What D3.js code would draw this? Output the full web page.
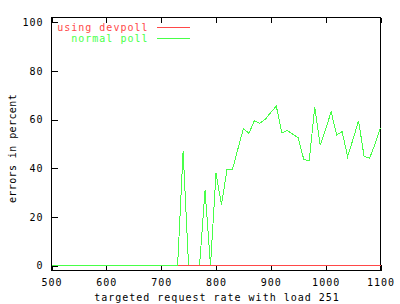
<!DOCTYPE html>
<html>
<head>
<meta charset="utf-8">
<script src="https://cdnjs.cloudflare.com/ajax/libs/d3/7.8.5/d3.min.js"></script>
<style>
  body { margin: 0; background: #fff; }
  text { font-family: "DejaVu Sans Mono", monospace; font-size: 10px; letter-spacing: 1px; }
  .axis path { display: none; }
  .axis line { stroke: #000; shape-rendering: crispEdges; }
  .axis text { fill: #000; }
</style>
</head>
<body>
<div id="chart"></div>
<script>
// request rates (x) and error percentages
var rates = [500, 510, 520, 530, 540, 550, 560, 570, 580, 590,
             600, 610, 620, 630, 640, 650, 660, 670, 680, 690,
             700, 710, 720, 730, 740, 750, 760, 770, 780, 790,
             800, 810, 820, 830, 840, 850, 860, 870, 880, 890,
             900, 910, 920, 930, 940, 950, 960, 970, 980, 990,
             1000, 1010, 1020, 1030, 1040, 1050, 1060, 1070, 1080, 1090, 1100];

var normalPoll = [0, 0, 0, 0, 0, 0, 0, 0, 0, 0,
                  0, 0, 0, 0, 0, 0, 0, 0, 0, 0,
                  0, 0, 0, 0, 47, 0, 0, 0, 31, 0,
                  38, 25, 39.5, 39.5, 48, 56.4, 54.4, 59.6, 58.5, 60.2,
                  63, 65.6, 54.6, 55.5, 54, 52.5, 43.7, 43.1, 65.1, 49.6,
                  56, 63.3, 53.7, 55.1, 44.8, 52, 59.6, 45, 44.1, 50, 56.7];

var devpollRates = [730, 740, 750, 760, 770, 780, 790,
                    800, 810, 820, 830, 840, 850, 860, 870, 880, 890,
                    900, 910, 920, 930, 940, 950, 960, 970, 980, 990,
                    1000, 1010, 1020, 1030, 1040, 1050, 1060, 1070, 1080, 1090, 1100];
var usingDevpoll = [0, 0, 0, 0, 0, 0, 0,
                    0, 0, 0, 0, 0, 0, 0, 0, 0, 0,
                    0, 0, 0, 0, 0, 0, 0, 0, 0, 0,
                    0, 0, 0, 0, 0, 0, 0, 0, 0, 0, 0];

var xTicks = [500, 600, 700, 800, 900, 1000, 1100];
var yTicks = [0, 20, 40, 60, 80, 100];

var red = "#ff4848", green = "#48ff48";

var width = 400, height = 304;
var margin = {top: 17, right: 20, bottom: 34, left: 51};
var w = width - margin.left - margin.right,
    h = height - margin.top - margin.bottom;

var x = d3.scaleLinear().domain([500, 1100]).range([0, w]);
var y = d3.scaleLinear().domain([-2, 102]).range([h, 0]);

var svg = d3.select("#chart").append("svg")
    .attr("width", width)
    .attr("height", height)
  .append("g")
    .attr("transform", "translate(" + (margin.left + 0.5) + "," + (margin.top + 0.5) + ")");

svg.append("g")
    .attr("class", "axis")
    .attr("transform", "translate(0," + h + ")")
    .call(d3.axisBottom(x).tickValues(xTicks).tickFormat(d3.format("d"))
      .tickSizeInner(-6).tickSizeOuter(0).tickPadding(8));

svg.append("g")
    .attr("class", "axis")
    .call(d3.axisTop(x).tickValues(xTicks).tickSizeInner(-5).tickSizeOuter(0).tickFormat(""));

svg.append("g")
    .attr("class", "axis")
    .call(d3.axisLeft(y).tickValues(yTicks).tickSizeInner(-6).tickSizeOuter(0).tickPadding(8));

// frame
svg.append("rect")
    .attr("width", w)
    .attr("height", h)
    .style("fill", "none")
    .style("stroke", "#000")
    .style("shape-rendering", "crispEdges");

var line = d3.line()
    .x(function(d) { return x(d[0]); })
    .y(function(d) { return y(d[1]); });

svg.append("path")
    .datum(d3.zip(rates, normalPoll))
    .attr("d", line)
    .style("fill", "none")
    .style("stroke", green)
    .style("shape-rendering", "crispEdges");

svg.append("path")
    .datum(d3.zip(devpollRates, usingDevpoll))
    .attr("d", line)
    .style("fill", "none")
    .style("stroke", red)
    .style("shape-rendering", "crispEdges");

// legend
var legend = [{name: "using devpoll", color: red}, {name: "normal poll", color: green}];
var lg = svg.selectAll(".legend")
    .data(legend)
  .enter().append("g")
    .attr("class", "legend")
    .attr("transform", function(d, i) { return "translate(0," + (10 + i * 11) + ")"; });

lg.append("text")
    .attr("x", 97)
    .attr("y", 3.5)
    .style("text-anchor", "end")
    .style("fill", function(d) { return d.color; })
    .text(function(d) { return d.name; });

lg.append("line")
    .attr("x1", 105)
    .attr("x2", 138)
    .style("stroke", function(d) { return d.color; })
    .style("stroke-width", 1)
    .style("shape-rendering", "crispEdges");

// axis titles
svg.append("text")
    .attr("x", (w / 2) + 1)
    .attr("y", h + 30)
    .style("text-anchor", "middle")
    .text("targeted request rate with load 251");

svg.append("text")
    .attr("transform", "rotate(-90)")
    .attr("x", -131)
    .attr("y", -36)
    .style("text-anchor", "middle")
    .style("letter-spacing", "0.4px")
    .text("errors in percent");
</script>
</body>
</html>
